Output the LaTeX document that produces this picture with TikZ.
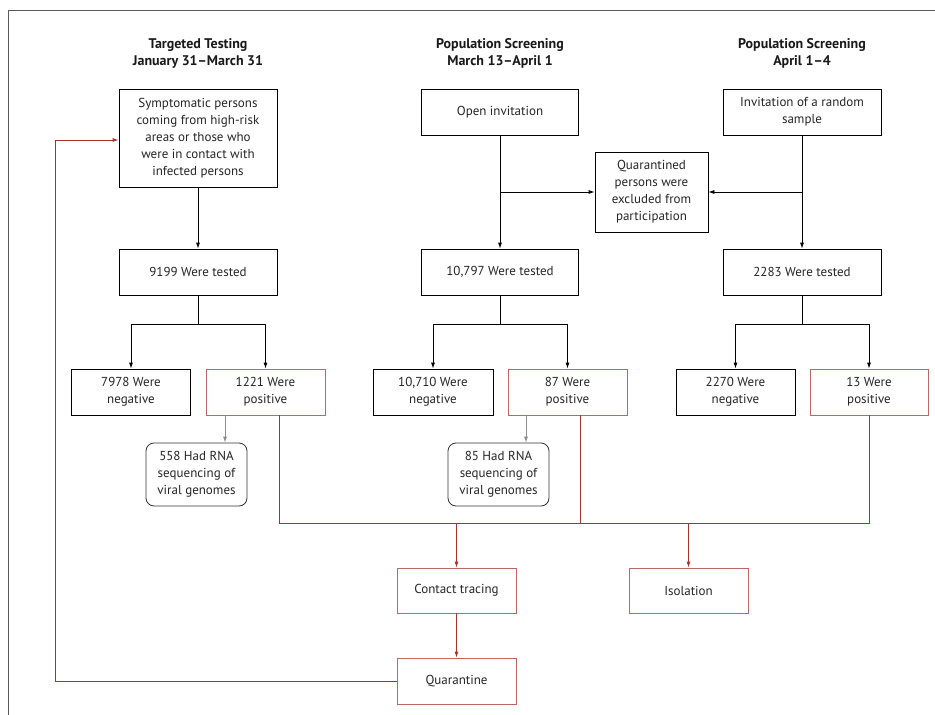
\documentclass[tikz,border=0pt]{standalone}
\usepackage{fontspec}
\setmainfont{PT Sans}
\usetikzlibrary{arrows.meta}
\definecolor{nred}{RGB}{168,52,46}
\definecolor{frame}{RGB}{90,90,90}
\tikzset{
  box/.style={draw=black, line width=0.8pt, rectangle, align=center, inner sep=2pt,
              font=\fontsize{13}{17}\selectfont, text=black!85},
  redbox/.style={box, draw=nred!75},
  rnabox/.style={box, rounded corners=8pt, draw=black!80},
  head/.style={align=center, font=\bfseries\fontsize{14}{17}\selectfont, text=black!90},
  conn/.style={line width=0.8pt, black},
  rconn/.style={line width=0.8pt, nred},
  gconn/.style={line width=0.8pt, black!45},
  arr/.style={-{Latex[length=6pt,width=4pt]}},
}
\begin{document}
\begin{tikzpicture}[x=1pt,y=-1pt]
\useasboundingbox (0,0) rectangle (935,715);
\fill[white] (0,0) rectangle (935,715);
\draw[frame, line width=0.9pt] (8,715) -- (8,10) -- (935,10);

% headings
\node[head] (h1) at (198,53) {Targeted Testing\\January 31--March 31};
\node[head] (h2) at (500,53) {Population Screening\\March 13--April 1};
\node[head] (h3) at (802,53) {Population Screening\\April 1--4};

% top boxes
\node[box, minimum width=158pt, minimum height=98pt] (symp) at (198,138)
  {Symptomatic persons\\coming from high-risk\\areas or those who\\were in contact with\\infected persons};
\node[box, minimum width=157pt, minimum height=46pt] (open) at (500,112) {Open invitation};
\node[box, minimum width=158pt, minimum height=46pt] (rand) at (802,112) {Invitation of a random\\sample};
\node[box, minimum width=113pt, minimum height=80pt] (qex) at (651.5,192)
  {Quarantined\\persons were\\excluded from\\participation};

% tested
\node[box, minimum width=158pt, minimum height=46pt] (t1) at (198,272) {9199 Were tested};
\node[box, minimum width=157pt, minimum height=46pt] (t2) at (500,272) {10,797 Were tested};
\node[box, minimum width=158pt, minimum height=46pt] (t3) at (802,272) {2283 Were tested};

% results
\node[box, minimum width=119pt, minimum height=46pt] (n1) at (131,392) {7978 Were\\negative};
\node[redbox, minimum width=119pt, minimum height=46pt] (p1) at (265.5,392) {1221 Were\\positive};
\node[box, minimum width=120pt, minimum height=46pt] (n2) at (433,392) {10,710 Were\\negative};
\node[redbox, minimum width=119pt, minimum height=46pt] (p2) at (567.5,392) {87 Were\\positive};
\node[box, minimum width=119pt, minimum height=46pt] (n3) at (735.5,392) {2270 Were\\negative};
\node[redbox, minimum width=118pt, minimum height=46pt] (p3) at (869,392) {13 Were\\positive};

% RNA
\node[rnabox, minimum width=101pt, minimum height=63pt] (r1) at (196.5,474.5) {558 Had RNA\\sequencing of\\viral genomes};
\node[rnabox, minimum width=101pt, minimum height=63pt] (r2) at (498.5,474.5) {85 Had RNA\\sequencing of\\viral genomes};

% bottom
\node[redbox, minimum width=119pt, minimum height=45pt] (ct) at (456.5,590.5) {Contact tracing};
\node[redbox, minimum width=119pt, minimum height=45pt] (iso) at (688.5,590.5) {Isolation};
\node[redbox, minimum width=119pt, minimum height=46pt] (quar) at (456.5,681) {Quarantine};

\coordinate (j1) at (500,192);
\coordinate (j2) at (802,192);
\coordinate (b1) at (198,324);
\coordinate (b2) at (500,324);
\coordinate (b3) at (802,324);
\coordinate (rl) at (279,523);
\coordinate (rm) at (580,523);
\coordinate (rr) at (869,523);
\coordinate (fb) at (55,681);
\coordinate (ft) at (55,140);

% black connectors
\draw[conn, arr] (symp.south) -- (t1.north);
\draw[conn, arr] (open.south) -- (t2.north);
\draw[conn, arr] (rand.south) -- (t3.north);
\draw[conn, arr] (j1) -- (qex.west |- j1);
\draw[conn, arr] (j2) -- (qex.east |- j2);

\draw[conn] (t1.south) -- (b1);
\draw[conn, arr] (b1) -| (n1.north);
\draw[conn, arr] (b1) -| (p1.north);
\draw[conn] (t2.south) -- (b2);
\draw[conn, arr] (b2) -| (n2.north);
\draw[conn, arr] (b2) -| (p2.north);
\draw[conn] (t3.south) -- (b3);
\draw[conn, arr] (b3) -| (n3.north);
\draw[conn, arr] (b3) -| (p3.north);

% gray arrows
\draw[gconn, arr] (p1.south -| 225,0) -- (r1.north -| 225,0);
\draw[gconn, arr] (p2.south -| 526,0) -- (r2.north -| 526,0);

% red connectors
\draw[rconn] (p1.south -| rl) -- (rl) -- (rr) -- (p3.south);
\draw[rconn] (p2.south -| rm) -- (rm);
\draw[rconn, arr] (ct.north |- rl) -- (ct.north);
\draw[rconn, arr] (iso.north |- rl) -- (iso.north);
\draw[rconn, arr] (ct.south) -- (quar.north);
\draw[rconn, arr] (quar.west) -- (fb) -- (ft) -- (symp.west |- ft);
\end{tikzpicture}
\end{document}
